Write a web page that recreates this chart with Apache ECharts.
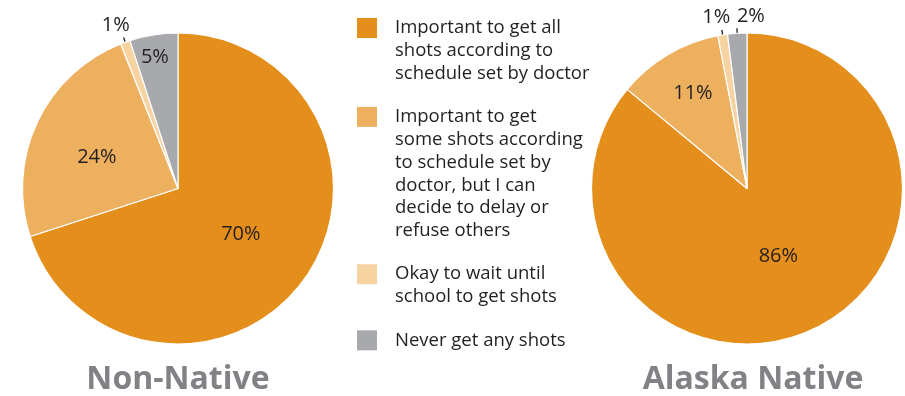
<!DOCTYPE html>
<html>
<head>
<meta charset="utf-8">
<script src="https://cdn.jsdelivr.net/npm/echarts@6/dist/echarts.min.js"></script>
<style>
  html, body { margin: 0; padding: 0; background: #fff; }
  #chart { width: 905px; height: 396px; }
</style>
</head>
<body>
<div id="chart"></div>
<script>
// 数据
const categories = [
    'Important to get all\nshots according to\nschedule set by doctor',
    'Important to get\nsome shots according\nto schedule set by\ndoctor, but I can\ndecide to delay or\nrefuse others',
    'Okay to wait until\nschool to get shots',
    'Never get any shots'
]
const nonNativeValues = [70, 24, 1, 5]
const alaskaNativeValues = [86, 11, 1, 2]
const groupTitles = ['Non-Native', 'Alaska Native']

// 样式 / 布局
const colors = ['#e48e1c', '#ecb05f', '#f7d3a1', '#a8a9ad']
const pieCenters = [[178, 188.5], [747, 188.5]]
const pieRadius = 155.5
// 标签到圆心的距离, 角度微调(度), 是否带引线
const labelPlace = [
    { r: [77.7, 87, 175, 133], shift: [0, -4, -1, -1], line: [false, false, true, false] },
    { r: [75, 109.5, 174, 172], shift: [0.5, 1, -1.2, 4.9], line: [false, false, true, true] }
]
const allValues = [nonNativeValues, alaskaNativeValues]
const fontFamily = '"Open Sans", "Noto Sans", sans-serif'

function midAngle(values, idx) {
    let total = values.reduce((x, y) => x + y)
    let before = values.slice(0, idx).reduce((x, y) => x + y, 0)
    return (before + values[idx] / 2) / total * 360
}

function polar(center, r, deg) {
    let a = deg * Math.PI / 180
    return [center[0] + r * Math.sin(a), center[1] - r * Math.cos(a)]
}

function buildSeries(values, si) {
    return {
        type: 'pie',
        center: pieCenters[si],
        radius: pieRadius,
        startAngle: 90,
        clockwise: true,
        avoidLabelOverlap: false,
        animation: false,
        itemStyle: { borderColor: '#fff', borderWidth: 1.2 },
        label: {
            show: true,
            position: 'inside',
            formatter: '{c}%',
            color: '#231f20',
            fontSize: 20,
            fontFamily: fontFamily
        },
        labelLine: { show: false },
        emphasis: { disabled: true },
        data: values.map((v, i) => {
            let item = { name: categories[i], value: v, itemStyle: { color: colors[i] } }
            if (labelPlace[si].line[i]) {
                item.label = { position: 'outside' }
                item.labelLine = { show: true, length: 8, length2: 0, lineStyle: { color: '#231f20', width: 1.3 } }
            }
            return item
        }),
        labelLayout: function (params) {
            let place = labelPlace[params.seriesIndex]
            let i = params.dataIndex
            let deg = midAngle(allValues[params.seriesIndex], i)
            let c = pieCenters[params.seriesIndex]
            let p = polar(c, place.r[i], deg + place.shift[i])
            let res = { x: p[0], y: p[1], align: 'center', verticalAlign: 'middle' }
            if (place.line[i]) {
                res.labelLinePoints = [polar(c, pieRadius - 8, deg), polar(c, pieRadius + 5, deg), polar(c, pieRadius + 5, deg)]
            }
            return res
        }
    }
}

// 图例 (手动排版, 方块对齐首行)
const legendX = 357
const legendTop = 28
const lineH = 22.8
const itemGap = 20.5
let legendGraphics = []
let linesBefore = 0
categories.forEach((name, i) => {
    let firstY = legendTop + linesBefore * lineH + i * itemGap
    legendGraphics.push({
        type: 'rect',
        shape: { x: legendX, y: firstY - 10, width: 20, height: 20 },
        style: { fill: colors[i] }
    })
    legendGraphics.push({
        type: 'text',
        x: legendX + 38,
        y: firstY - lineH / 2,
        style: {
            text: name,
            fill: '#231f20',
            font: '18.5px ' + fontFamily,
            lineHeight: lineH,
            verticalAlign: 'top'
        }
    })
    linesBefore += name.split('\n').length
})

groupTitles.forEach((t, i) => {
    legendGraphics.push({
        type: 'text',
        x: pieCenters[i][0] + (i === 1 ? 6 : 0),
        y: 380,
        style: {
            text: t,
            fill: '#808285',
            font: 'bold 32px ' + fontFamily,
            align: 'center',
            verticalAlign: 'middle'
        }
    })
})

var chart = echarts.init(document.getElementById('chart'))
chart.setOption({
    backgroundColor: '#fff',
    animation: false,
    series: [buildSeries(nonNativeValues, 0), buildSeries(alaskaNativeValues, 1)],
    graphic: legendGraphics
})
</script>
</body>
</html>
